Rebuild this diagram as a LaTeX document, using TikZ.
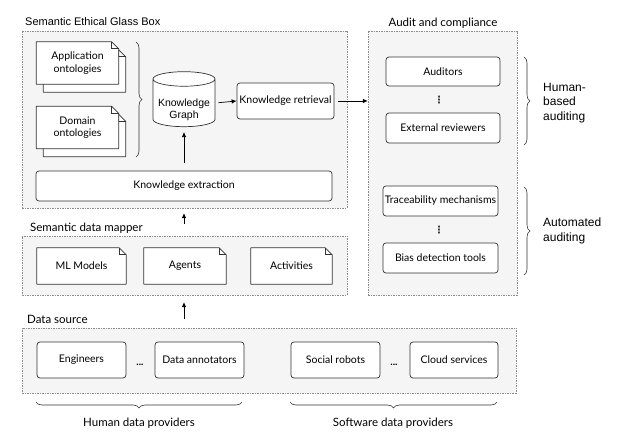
\documentclass[tikz,border=0pt]{standalone}
\usepackage{fontspec}
\setmainfont{Lato}
\newfontfamily\arialfont{Liberation Sans}
\newfontfamily\symfont{DejaVu Sans}
\usetikzlibrary{positioning,shapes.geometric,arrows.meta,decorations.pathreplacing}
\tikzset{
	layer/.style={
		draw=black!45,
		dash pattern=on 1.5pt off 1pt,
		fill=black!4,
		inner sep=0pt
	},
	box/.style={
		draw=black!80,
		fill=white,
		rounded corners=3pt,
		line width=0.7pt,
		inner sep=1pt,
		font=\fontsize{10.5}{12}\selectfont
	},
	note/.style={
		inner sep=1pt,
		align=center,
		font=\fontsize{10.5}{12.5}\selectfont,
		append after command={\pgfextra{
			\draw[draw=black!80, fill=white, line width=0.7pt, line join=round] (\tikzlastnode.south west) -- (\tikzlastnode.north west) -- ([xshift=-7pt]\tikzlastnode.north east) -- ([yshift=-7pt]\tikzlastnode.north east) -- (\tikzlastnode.south east) -- cycle;
			\draw[draw=black!80, line width=0.7pt] ([xshift=-7pt]\tikzlastnode.north east) |- ([yshift=-7pt]\tikzlastnode.north east);
		}}
	},
	caption/.style={font=\fontsize{11.5}{14}\selectfont, inner sep=0pt},
	vdotsmark/.style={font=\symfont\bfseries\fontsize{10}{10}\selectfont, inner sep=0pt, text=black!85},
	curly/.style={decorate, decoration={brace, amplitude=6pt}, draw=black!80, line width=0.6pt},
	flow/.style={-{Latex[length=5pt,width=4.5pt]}, line width=0.7pt}
}

\begin{document}
\begin{tikzpicture}[x=1pt, y=-1pt]
	\useasboundingbox (0,0) rectangle (627,446);

	% containers
	\node [layer, minimum width=325pt, minimum height=177pt] (glassbox) at (184.5,119.5) {};
	\node [layer, minimum width=325pt, minimum height=59pt] (mapper) at (184.5,265.5) {};
	\node [layer, minimum width=494pt, minimum height=65pt] (source) at (269,360.5) {};
	\node [layer, minimum width=149pt, minimum height=264pt] (audit) at (442.5,163) {};

	\node [caption, font=\arialfont\fontsize{11}{13}\selectfont, anchor=base west] (glasstitle) at (25,26) {Semantic Ethical Glass Box};
	\node [caption, anchor=base west] (mappertitle) at (30,232) {Semantic data mapper};
	\node [caption, anchor=base west] (sourcetitle) at (27,324) {Data source};
	\node [caption, anchor=base] (audittitle) at (443,27) {Audit and compliance};

	% glass box
	\node [note, minimum width=82pt, minimum height=42pt] (appback) at (84.5,71) {};
	\node [note, minimum width=82pt, minimum height=42pt] (app) at (77.5,63) {Application\\ontologies};
	\node [note, minimum width=82pt, minimum height=42pt] (domback) at (84.5,135.5) {};
	\node [note, minimum width=82pt, minimum height=42pt] (dom) at (77.5,127.5) {Domain\\ontologies};
	\draw [curly] (136,42) -- (136,157);

	\node [cylinder, shape border rotate=90, aspect=0.28, draw=black!80, fill=white, line width=0.7pt,
		minimum width=62pt, minimum height=55pt, align=center, inner sep=0pt,
		font=\arialfont\fontsize{10.5}{12}\selectfont] (kg) at (184,103) {\phantom{Knowledge}\\\phantom{Graph}};
	\node [align=center, inner sep=0pt, font=\arialfont\fontsize{10.5}{12}\selectfont] (kgtext) at (184,110) {Knowledge\\Graph};
	\node [box, minimum width=97pt, minimum height=36pt] (retrieval) at (285.5,101) {Knowledge retrieval};
	\node [box, minimum width=296pt, minimum height=30pt] (extraction) at (184,186) {Knowledge extraction};

	% mapper
	\node [note, minimum width=89pt, minimum height=36pt] (ml) at (81.5,266) {ML Models};
	\node [note, minimum width=82pt, minimum height=36pt] (agents) at (185,266) {Agents};
	\node [note, minimum width=81pt, minimum height=36pt] (activities) at (291.5,266) {Activities};

	% data source
	\node [box, minimum width=89pt, minimum height=36pt] (engineers) at (81.5,360) {Engineers};
	\node [box, minimum width=89pt, minimum height=36pt] (annotators) at (199.5,360) {Data annotators};
	\node [box, minimum width=89pt, minimum height=36pt] (robots) at (335.5,360) {Social robots};
	\node [box, minimum width=88pt, minimum height=36pt] (cloud) at (454,360) {Cloud services};
	\node [font=\bfseries\fontsize{10}{10}\selectfont, inner sep=0pt] (humandots) at (140,365) {...};
	\node [font=\bfseries\fontsize{10}{10}\selectfont, inner sep=0pt] (softdots) at (394,365) {...};

	% audit
	\node [box, minimum width=114pt, minimum height=29pt] (auditors) at (443,71.5) {Auditors};
	\node [box, minimum width=114pt, minimum height=30pt] (reviewers) at (443,128) {External reviewers};
	\node [box, minimum width=115pt, minimum height=30pt] (trace) at (440.5,201) {Traceability mechanisms};
	\node [box, minimum width=115pt, minimum height=30pt] (bias) at (440.5,258) {Bias detection tools};
	\node [vdotsmark] (humanvdots) at (439,100) {⋮};
	\node [vdotsmark] (autovdots) at (439,230) {⋮};

	% braces
	\draw [curly] (524,57) -- (524,145);
	\draw [curly] (524,187) -- (524,275);
	\draw [curly] (242,402) -- (36,402);
	\draw [curly] (497,402) -- (290,402);
	\node [caption, font=\arialfont\fontsize{12}{14.5}\selectfont, align=left, anchor=west] (humanaudit) at (543,103) {Human-\\based\\auditing};
	\node [caption, font=\arialfont\fontsize{12}{14.5}\selectfont, align=left, anchor=west] (autoaudit) at (543,231) {Automated\\auditing};
	\node [caption] (humanprov) at (139,423) {Human data providers};
	\node [caption] (softprov) at (393,423) {Software data providers};

	% arrows
	\draw [flow, shorten <=3pt] (kg.east) -- (retrieval.west);
	\draw [flow, shorten <=4pt] (retrieval.east) -- (retrieval.east -| audit.west);
	\draw [flow, shorten <=8pt, shorten >=5pt] (extraction.north -| kg.south) -- (kg.south);
	\draw [flow, shorten <=12pt, shorten >=5pt] (mapper.north -| kg.south) -- (glassbox.south -| kg.south);
	\draw [flow, shorten <=9pt, shorten >=7pt] (source.north -| kg.south) -- (mapper.south -| kg.south);
\end{tikzpicture}
\end{document}
